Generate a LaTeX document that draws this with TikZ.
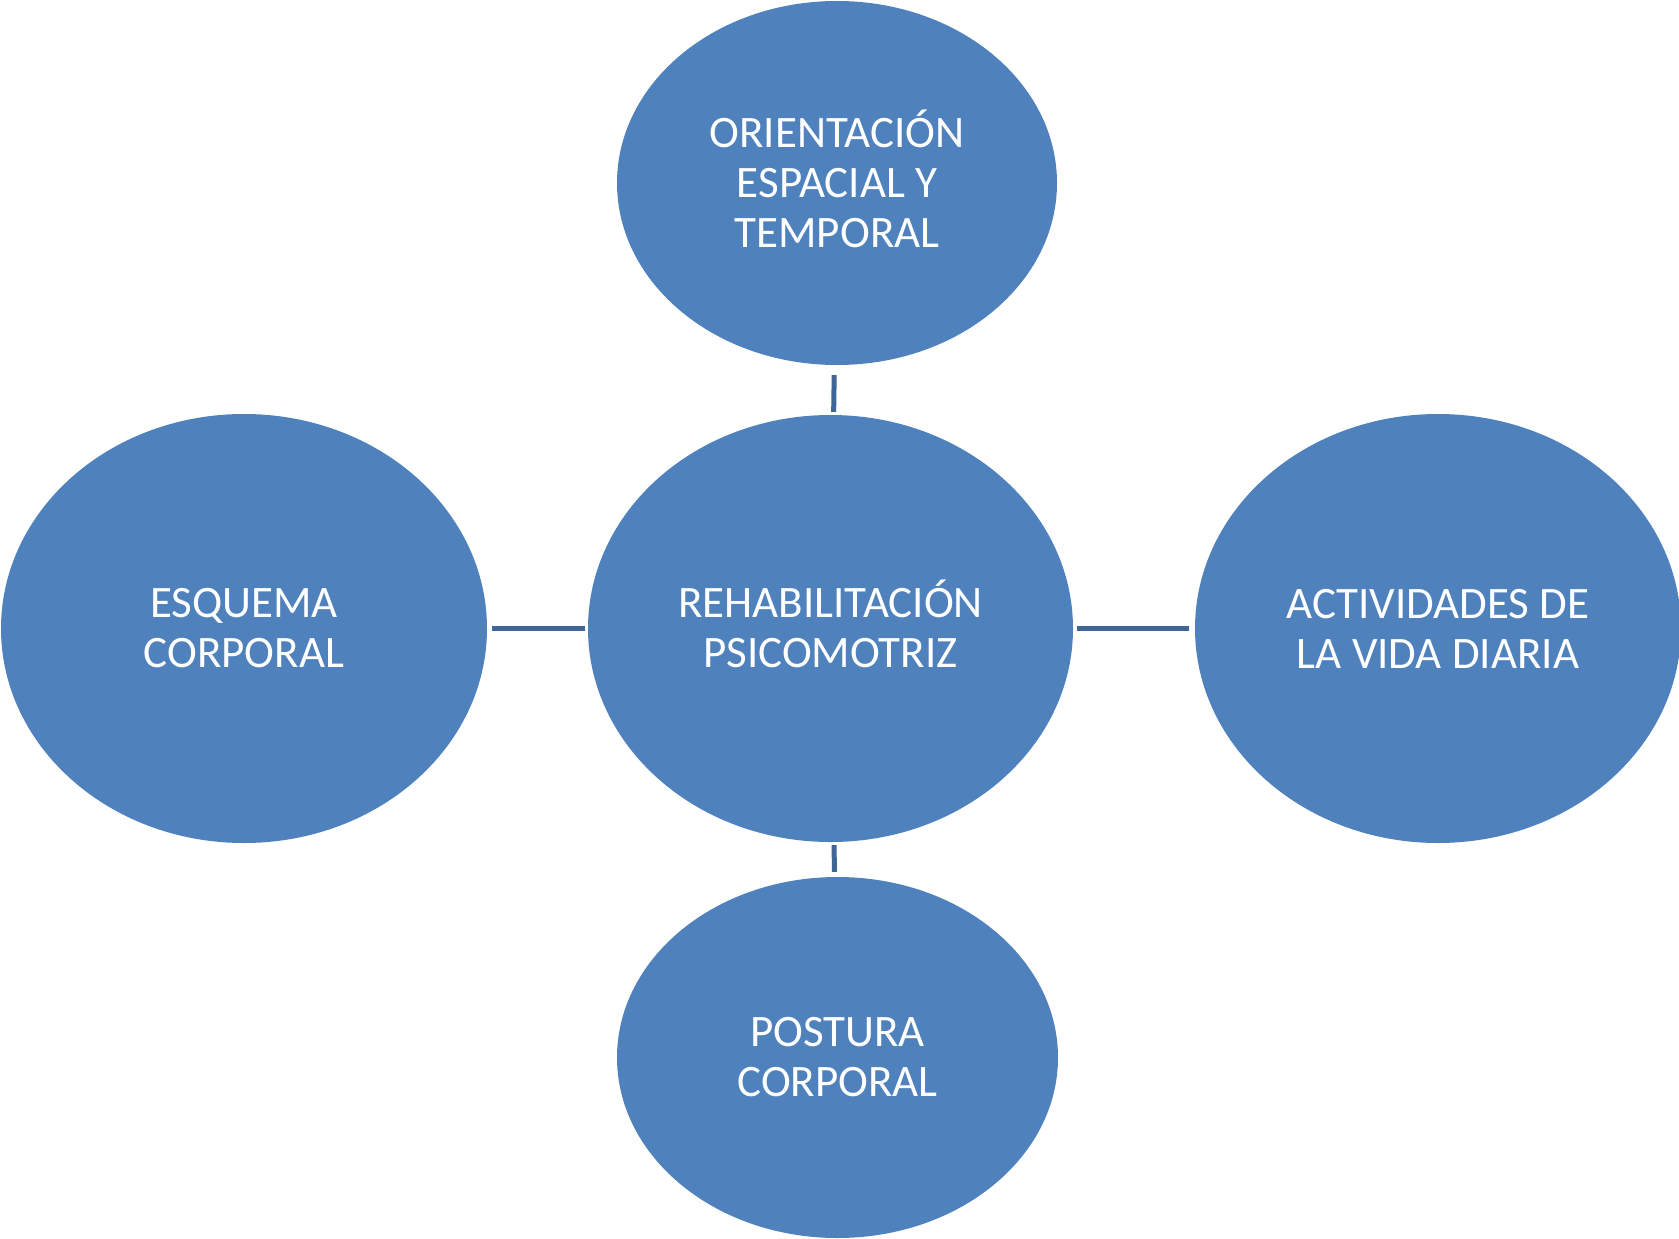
\documentclass[tikz,border=0pt]{standalone}
\usepackage{fontspec}
\setmainfont{Carlito}
\usetikzlibrary{shapes.geometric}
\definecolor{bubble}{HTML}{4F81BD}
\definecolor{linkblue}{HTML}{3E6699}

\begin{document}
\begin{tikzpicture}[x = 1pt, y = -1pt,
	topic/.style = {ellipse, fill = bubble, inner sep = 0pt, text = white, align = center, font = \fontsize{45}{50}\selectfont},
	link/.style = {draw = linkblue, line width = 5pt}]

	% Canvas
	
	\useasboundingbox (0, 0) rectangle (1679, 1239);
	
	% Centre and surrounding topics
	
	\node [topic, minimum width = 485pt, minimum height = 427pt] (centre) at (830.5, 628.5) {REHABILITACI\smash{Ó}N\\PSICOMOTRIZ};
	\node [topic, minimum width = 440pt, minimum height = 364pt] (orientacion) at (837, 183) {ORIENTACI\smash{Ó}N\\ESPACIAL Y\\TEMPORAL};
	\node [topic, minimum width = 486pt, minimum height = 429pt] (esquema) at (244, 628.5) {ESQUEMA\\CORPORAL};
	\node [topic, minimum width = 486pt, minimum height = 429pt] (actividades) at (1438, 628.5) {ACTIVIDADES DE\\LA VIDA DIARIA};
	\node [topic, minimum width = 441pt, minimum height = 361pt] (postura) at (837.5, 1057.5) {POSTURA\\CORPORAL};
	
	% Short links between them
	
	\draw [link, shorten <= 10pt, shorten >= 3pt] (orientacion) -- (centre);
	\draw [link, shorten <= 5pt, shorten >= 3pt] (esquema) -- (centre);
	\draw [link, shorten <= 4pt, shorten >= 6pt] (centre) -- (actividades);
	\draw [link, shorten <= 3pt, shorten >= 5pt] (centre) -- (postura);
	
\end{tikzpicture}
\end{document}
